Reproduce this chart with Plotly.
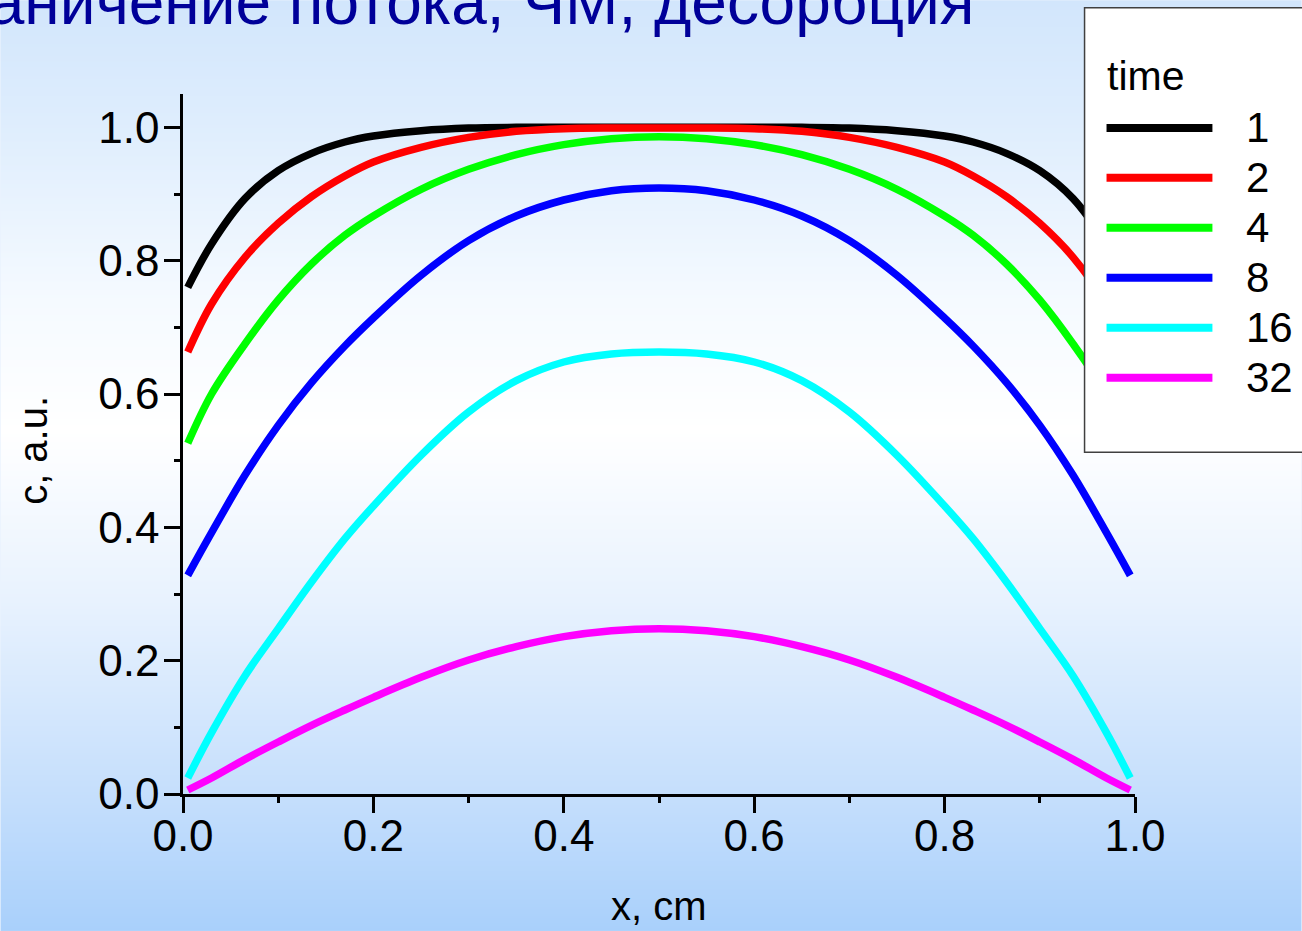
import base64
import struct
import zlib

import plotly.graph_objects as go

# ---- data -------------------------------------------------------------
x_cm = [0.005, 0.03, 0.065, 0.10, 0.135, 0.17, 0.20, 0.25, 0.30, 0.35, 0.40, 0.45,
        0.50, 0.55, 0.60, 0.65, 0.70, 0.75, 0.80, 0.83, 0.865, 0.90, 0.935, 0.97, 0.995]

c_t1 = [0.760, 0.825, 0.893, 0.935, 0.961, 0.978, 0.987, 0.995, 0.999, 1.000, 1.000, 1.000,
        1.000, 1.000, 1.000, 1.000, 0.999, 0.995, 0.987, 0.978, 0.961, 0.935, 0.893, 0.825, 0.760]
c_t2 = [0.663, 0.735, 0.805, 0.856, 0.896, 0.927, 0.948, 0.970, 0.985, 0.994, 0.998, 0.999,
        0.999, 0.999, 0.998, 0.994, 0.985, 0.970, 0.948, 0.927, 0.896, 0.856, 0.805, 0.735, 0.663]
c_t4 = [0.526, 0.600, 0.675, 0.741, 0.795, 0.838, 0.867, 0.907, 0.937, 0.959, 0.974, 0.983,
        0.986, 0.983, 0.974, 0.959, 0.937, 0.907, 0.867, 0.838, 0.795, 0.741, 0.675, 0.600, 0.526]
c_t8 = [0.328, 0.392, 0.478, 0.553, 0.617, 0.672, 0.714, 0.778, 0.830, 0.867, 0.891, 0.905,
        0.909, 0.905, 0.891, 0.867, 0.830, 0.778, 0.714, 0.672, 0.617, 0.553, 0.478, 0.392, 0.328]
c_t16 = [0.024, 0.092, 0.177, 0.248, 0.318, 0.383, 0.432, 0.508, 0.573, 0.620, 0.648, 0.660,
         0.663, 0.660, 0.648, 0.620, 0.573, 0.508, 0.432, 0.383, 0.318, 0.248, 0.177, 0.092, 0.024]
c_t32 = [0.006, 0.024, 0.052, 0.078, 0.103, 0.126, 0.145, 0.175, 0.201, 0.221, 0.236, 0.245,
         0.248, 0.245, 0.236, 0.221, 0.201, 0.175, 0.145, 0.126, 0.103, 0.078, 0.052, 0.024, 0.006]

times = ["1", "2", "4", "8", "16", "32"]
series = [c_t1, c_t2, c_t4, c_t8, c_t16, c_t32]
colors = ["#000000", "#ff0000", "#00ff00", "#0000ff", "#00ffff", "#ff00ff"]

x_ticks = [0.0, 0.2, 0.4, 0.6, 0.8, 1.0]
y_ticks = [0.0, 0.2, 0.4, 0.6, 0.8, 1.0]

title_text = "Ограничение потока, ЧМ, десорбция"
x_title = "x, cm"
y_title = "c, a.u."
legend_title = "time"

# ---- page geometry ----------------------------------------------------
W, H = 1302, 931
L, R, T, B = 182.5, 166.5, 93.6, 137.0
PW, PH = W - L - R, H - T - B

FONT = "Liberation Sans, Arial, sans-serif"


def px(xp):
    """pixel column -> paper x"""
    return (xp - L) / PW


def py(yp):
    """pixel row -> paper y"""
    return (H - B - yp) / PH


# ---- vertical background gradient as an inline PNG --------------------
def gradient_png(stops, height, width=2):
    def col(y):
        for (y0, c0), (y1, c1) in zip(stops[:-1], stops[1:]):
            if y0 <= y <= y1:
                t = (y - y0) / (y1 - y0) if y1 > y0 else 0
                return [round(a + (b - a) * t) for a, b in zip(c0, c1)]
        return stops[-1][1]

    raw = b""
    for y in range(height):
        raw += b"\x00" + bytes(col(y)) * width

    def chunk(tag, data):
        c = struct.pack(">I", len(data)) + tag + data
        return c + struct.pack(">I", zlib.crc32(tag + data) & 0xFFFFFFFF)

    png = b"\x89PNG\r\n\x1a\n"
    png += chunk(b"IHDR", struct.pack(">IIBBBBB", width, height, 8, 2, 0, 0, 0))
    png += chunk(b"IDAT", zlib.compress(raw, 9))
    png += chunk(b"IEND", b"")
    return "data:image/png;base64," + base64.b64encode(png).decode()


bg_stops = [
    (0, (210, 230, 252)),
    (120, (222, 237, 253)),
    (300, (245, 250, 255)),
    (430, (255, 255, 255)),
    (600, (232, 242, 254)),
    (800, (196, 222, 252)),
    (931, (169, 208, 251)),
]

fig = go.Figure()

for name, c, col in zip(times, series, colors):
    fig.add_trace(go.Scatter(
        x=x_cm, y=c, mode="lines", name=name,
        line=dict(color=col, width=7.5, shape="spline", smoothing=1.0),
        showlegend=False,
    ))

shapes = []
annotations = []

# legend frame drawn over the curves
shapes.append(dict(type="rect", xref="paper", yref="paper",
                   x0=px(1085), x1=px(1320), y0=py(452), y1=py(7.3),
                   fillcolor="white", line=dict(color="#404040", width=1.5),
                   layer="above"))
annotations.append(dict(text=legend_title, xref="paper", yref="paper",
                        x=px(1105), y=py(76), xanchor="left", yanchor="middle",
                        showarrow=False, font=dict(family=FONT, size=41, color="black")))
for i, (name, col) in enumerate(zip(times, colors)):
    yy = 127.5 + 50 * i
    shapes.append(dict(type="line", xref="paper", yref="paper",
                       x0=px(1107), x1=px(1213), y0=py(yy), y1=py(yy),
                       line=dict(color=col, width=8), layer="above"))
    annotations.append(dict(text=name, xref="paper", yref="paper",
                            x=px(1245), y=py(yy), xanchor="left", yanchor="middle",
                            showarrow=False,
                            font=dict(family=FONT, size=42, color="black")))

# axis titles
annotations.append(dict(text=x_title, xref="paper", yref="paper",
                        x=0.5, y=py(906), xanchor="center", yanchor="middle",
                        showarrow=False, font=dict(family=FONT, size=40, color="black")))
annotations.append(dict(text=y_title, xref="paper", yref="paper",
                        x=px(33), y=py(450), xanchor="center", yanchor="middle",
                        textangle=-90, showarrow=False,
                        font=dict(family=FONT, size=40, color="black")))

# slide heading, running off the top-left corner
annotations.append(dict(text=title_text, xref="paper", yref="paper",
                        x=px(977), y=py(2), xanchor="right", yanchor="middle",
                        showarrow=False,
                        font=dict(family=FONT, size=64, color="#000099")))

axis_common = dict(
    showline=True, linecolor="black", linewidth=2.5, mirror=False,
    ticks="outside", ticklen=16, tickwidth=2.5, tickcolor="black",
    showgrid=False, zeroline=False, tickformat=".1f",
    tickfont=dict(family=FONT, size=44, color="black"),
    minor=dict(ticks="outside", ticklen=6, tickwidth=2.5, tickcolor="black", dtick=0.1,
               showgrid=False),
)

fig.update_layout(
    width=W, height=H,
    margin=dict(l=L, r=R, t=T, b=B, autoexpand=False),
    paper_bgcolor="#eaf3fe",
    plot_bgcolor="rgba(0,0,0,0)",
    xaxis=dict(range=[0, 1], tickvals=x_ticks, ticklabelstandoff=-15, **axis_common),
    yaxis=dict(range=[0, 1.05], tickvals=y_ticks, ticklabelstandoff=-4, **axis_common),
    shapes=shapes,
    annotations=annotations,
    images=[dict(source=gradient_png(bg_stops, H), xref="paper", yref="paper",
                 x=px(0), y=py(0), sizex=W / PW, sizey=H / PH,
                 xanchor="left", yanchor="top", sizing="stretch", layer="below")],
    showlegend=False,
)

fig.write_html("out.html")
